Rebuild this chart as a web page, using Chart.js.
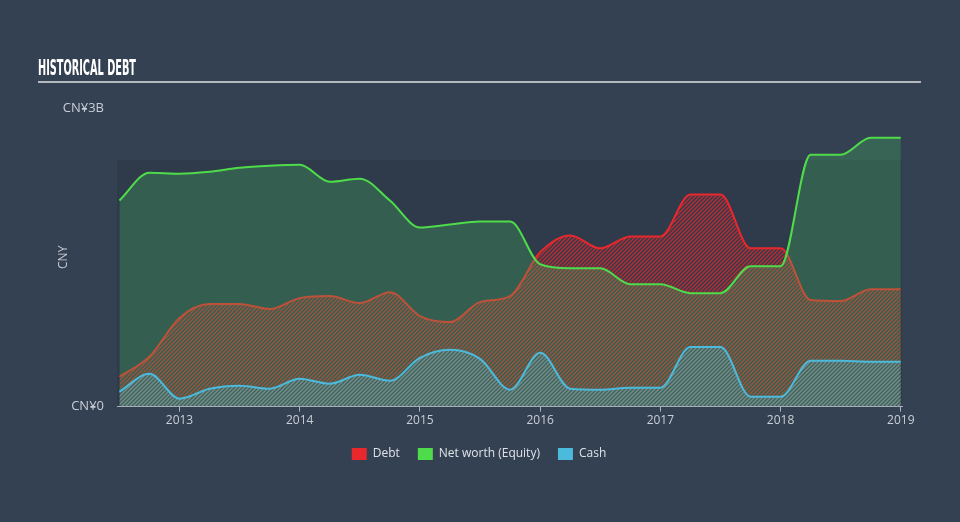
<!DOCTYPE html>
<html>
<head>
<meta charset="utf-8">
<script src="https://cdn.jsdelivr.net/npm/chart.js@4.4.1/dist/chart.umd.min.js"></script>
<style>
  html, body { margin: 0; padding: 0; background: #344152; }
  #wrap { width: 960px; height: 522px; position: relative; }
</style>
</head>
<body>
<div id="wrap"><canvas id="debtChart" width="960" height="522"></canvas></div>
<script>
// quarterly dates as decimal years
const dates = [2012.5, 2012.75, 2013, 2013.25, 2013.5, 2013.75, 2014, 2014.25, 2014.5, 2014.75,
               2015, 2015.25, 2015.5, 2015.75, 2016, 2016.25, 2016.5, 2016.75, 2017, 2017.25,
               2017.5, 2017.75, 2018, 2018.25, 2018.5, 2018.75, 2019];
// values in CNY billions
const debt   = [0.30, 0.50, 0.89, 1.03, 1.03, 0.98, 1.09, 1.11, 1.04, 1.15,
                0.91, 0.85, 1.05, 1.11, 1.55, 1.72, 1.59, 1.71, 1.71, 2.13,
                2.13, 1.59, 1.59, 1.07, 1.06, 1.18, 1.18];
const equity = [2.07, 2.35, 2.34, 2.36, 2.40, 2.42, 2.43, 2.26, 2.29, 2.07,
                1.80, 1.83, 1.86, 1.86, 1.43, 1.39, 1.39, 1.23, 1.23, 1.14,
                1.14, 1.41, 1.41, 2.53, 2.53, 2.70, 2.70];
const cash   = [0.15, 0.33, 0.08, 0.18, 0.21, 0.18, 0.28, 0.23, 0.32, 0.26,
                0.49, 0.57, 0.48, 0.17, 0.54, 0.18, 0.17, 0.19, 0.19, 0.60,
                0.60, 0.10, 0.10, 0.46, 0.46, 0.45, 0.45];
const yearTicks = [2013, 2014, 2015, 2016, 2017, 2018, 2019];
const yTicks = [0, 3];
const yTickLabels = ['CN¥0', 'CN¥3B'];

function toPoints(vals) {
    return vals.map(function (v, i) { return { x: dates[i], y: v }; });
}

// diagonal hatch pattern
function hatch(color, bg) {
    const c = document.createElement('canvas');
    c.width = 4; c.height = 4;
    const g = c.getContext('2d');
    if (bg) { g.fillStyle = bg; g.fillRect(0, 0, 4, 4); }
    g.strokeStyle = color;
    g.lineWidth = 1.4;
    g.beginPath();
    g.moveTo(-1, 5); g.lineTo(5, -1);
    g.moveTo(-3, 3); g.lineTo(3, -3);
    g.moveTo(1, 7); g.lineTo(7, 1);
    g.stroke();
    return g.createPattern(c, 'repeat');
}

// header + plot background
const decorPlugin = {
    id: 'decor',
    beforeDraw: function (chart) {
        const ctx = chart.ctx;
        const a = chart.chartArea;
        ctx.save();
        ctx.fillStyle = '#2f3b4b';
        ctx.fillRect(a.left, a.top + 52, a.right - a.left, a.bottom - a.top - 52);
        // title
        ctx.fillStyle = '#ffffff';
        ctx.font = 'bold 22px "Liberation Sans Narrow", "DejaVu Sans Condensed", sans-serif';
        const w = ctx.measureText('HISTORICAL DEBT').width;
        ctx.translate(38, 75);
        ctx.scale(98 / w, 1);
        ctx.textBaseline = 'alphabetic';
        ctx.fillText('HISTORICAL DEBT', 0, 0);
        ctx.restore();
        ctx.save();
        ctx.strokeStyle = '#b4b9c0';
        ctx.lineWidth = 2;
        ctx.beginPath();
        ctx.moveTo(38, 82);
        ctx.lineTo(921, 82);
        ctx.stroke();
        ctx.restore();
    }
};

const labelColor = '#c9ced5';
const tickFont = { family: '"Open Sans", Lato, sans-serif', size: 12 };
const ctx = document.getElementById('debtChart');

new Chart(ctx, {
    type: 'line',
    data: {
        datasets: [
            {
                label: 'Debt',
                data: toPoints(debt),
                borderColor: '#e8282c',
                backgroundColor: hatch('rgba(232,40,44,0.75)'),
                fill: 'origin',
                borderWidth: 2,
                order: 3
            },
            {
                label: 'Net worth (Equity)',
                data: toPoints(equity),
                borderColor: '#4fdc4a',
                backgroundColor: 'rgba(70,200,95,0.26)',
                fill: 'origin',
                borderWidth: 2,
                order: 2
            },
            {
                label: 'Cash',
                data: toPoints(cash),
                borderColor: '#4bbadd',
                backgroundColor: hatch('rgba(90,180,200,0.55)', 'rgba(75,185,220,0.08)'),
                fill: 'origin',
                borderWidth: 2,
                order: 1
            }
        ]
    },
    options: {
        responsive: false,
        animation: false,
        cubicInterpolationMode: 'monotone',
        elements: { point: { radius: 0 } },
        layout: { padding: { left: 56, right: 58, top: 108, bottom: 52 } },
        scales: {
            x: {
                type: 'linear',
                min: 2012.48,
                max: 2019.01,
                afterBuildTicks: function (scale) {
                    scale.ticks = yearTicks.map(function (v) { return { value: v }; });
                },
                ticks: {
                    color: labelColor,
                    font: tickFont,
                    padding: 2,
                    maxRotation: 0,
                    callback: function (v) { return String(v); }
                },
                grid: { display: true, drawOnChartArea: false, color: '#aab3bf', tickLength: 5 },
                border: { color: '#aab3bf', width: 1 }
            },
            y: {
                min: 0,
                max: 3,
                afterBuildTicks: function (scale) {
                    scale.ticks = yTicks.map(function (v) { return { value: v }; });
                },
                afterFit: function (scale) { scale.width = 61; },
                ticks: {
                    color: labelColor,
                    font: { family: '"Open Sans", Lato, sans-serif', size: 13 },
                    padding: 5,
                    callback: function (v) { return yTickLabels[yTicks.indexOf(v)]; }
                },
                grid: { display: false },
                border: { display: false },
                title: {
                    display: true,
                    text: 'CNY',
                    color: labelColor,
                    font: tickFont,
                    padding: 0
                }
            }
        },
        plugins: {
            legend: {
                position: 'bottom',
                labels: {
                    color: '#dfe3e8',
                    font: { family: '"Open Sans", Lato, sans-serif', size: 12 },
                    boxWidth: 15,
                    boxHeight: 12,
                    padding: 18,
                    generateLabels: function (chart) {
                        const cols = ['#e8282c', '#4fdc4a', '#4bbadd'];
                        return chart.data.datasets.map(function (d, i) {
                            return { text: d.label, fillStyle: cols[i], strokeStyle: cols[i],
                                     lineWidth: 0, fontColor: '#dfe3e8', datasetIndex: i, hidden: false };
                        });
                    }
                }
            },
            tooltip: { enabled: false }
        }
    },
    plugins: [decorPlugin]
});
</script>
</body>
</html>
